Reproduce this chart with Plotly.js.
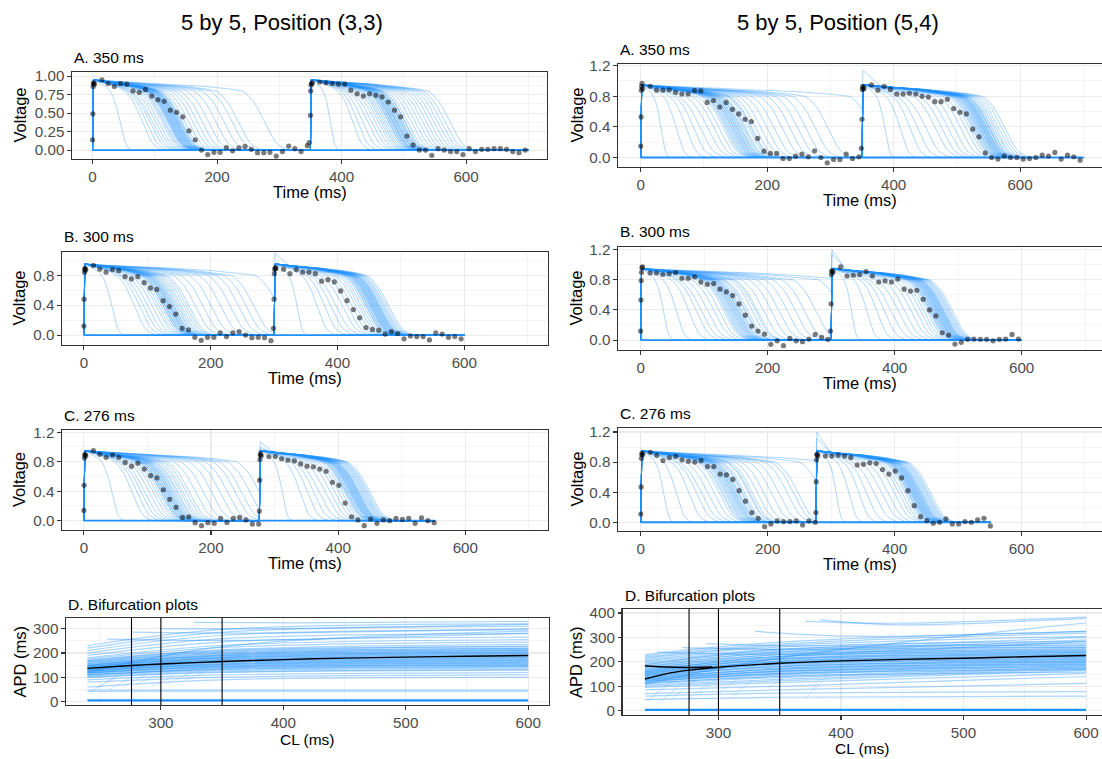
<!DOCTYPE html>
<html><head><meta charset="utf-8">
<script src="https://cdn.plot.ly/plotly-3.0.1.min.js"></script>
<style>html,body{margin:0;padding:0;background:#fff}#chart{width:1102px;height:759px}</style>
</head><body><div id="chart"></div>
<script>
// ---------------- DATA ----------------
// Observed data points (time ms, voltage) per panel
const LA_dotT = [0,0.5,1,1.5,2,3,15,25,35,45,55,65,75,85,95,105,115,125,135,145,155,165,175,185,195,205,215,225,235,245,255,265,275,285,295,305,315,325,335,345,348,350,350.5,351,352,353,365,375,385,395,405,415,425,435,445,455,465,475,485,495,505,515,525,535,545,555,565,575,585,595,605,615,625,635,645,655,665,675,685,695];
const LA_dotV = [0.14,0.49,0.86,0.9,0.91,0.89,.95,.90,.86,.90,.89,.80,.78,.82,.73,.68,.66,.54,.51,.45,.26,.14,0,-.06,-.03,-.03,.035,-.01,.03,.05,.01,-.035,-.035,-.03,-.08,-.02,.055,.02,-.02,.06,.1,.47,.8,.88,.9,.91,.92,.91,.9,.89,.89,.81,.76,.73,.76,.74,.72,.65,.54,.45,.19,.07,0,0,-.07,.02,0,-.02,-.02,-.06,.02,-.02,.01,.01,.02,.02,.01,-.02,-.035,0];
const LB_dotT = [0,0.5,1,1.5,2,3,15,25,35,45,55,65,75,85,95,105,115,125,135,145,155,165,175,185,195,205,215,225,235,245,255,265,275,285,295,299,300,300.5,301,302,303,315,325,335,345,355,365,375,385,395,405,415,425,435,445,455,465,475,485,495,505,515,525,535,545,555,565,575,585,595];
const LB_dotV = [.12,.48,.84,.88,.89,.87,.93,.88,.84,.875,.86,.78,.75,.78,.70,.63,.61,.46,.38,.28,.09,.07,-.03,-.07,-.03,-.03,.03,-.02,.03,.045,0,-.035,-.03,-.035,-.075,.09,.48,.82,.88,.9,.89,.88,.82,.875,.84,.84,.82,.72,.74,.71,.59,.46,.34,.23,.10,.075,.065,.013,.045,.02,-.05,-.013,-.02,-.02,-.065,.03,.013,-.03,-.02,-.05];
const LC_dotT = [0,0.5,1,1.5,2,3,15,25,35,45,55,65,75,85,95,105,115,125,135,145,155,165,175,185,195,205,215,225,235,245,255,265,275,276,276.5,277,277.5,278,279,291,301,311,321,331,341,351,361,371,381,391,401,411,421,431,441,451,461,471,481,491,501,511,521,531,541,551];
const LC_dotV = [.14,.48,.85,.89,.9,.88,.95,.9,.86,.89,.86,.79,.74,.78,.70,.61,.58,.42,.29,.18,.045,.054,-.027,-.068,-.027,-.036,.032,-.023,.032,.045,.01,-.045,-.045,.13,.55,.83,.89,.91,.88,.87,.87,.84,.82,.81,.77,.74,.73,.70,.67,.52,.48,.24,.054,.01,-.068,.023,-.036,.01,0,.032,.018,.032,-.036,.04,0,-.027];
const RA_dotT = [0,0.5,1,1.5,2,3,15,25,35,45,55,65,75,85,95,105,115,125,135,145,155,165,175,185,195,205,215,225,235,245,255,265,275,285,295,305,315,325,335,345,349,350,350.5,351,352,353,365,375,385,395,405,415,425,435,445,455,465,475,485,495,505,515,525,535,545,555,565,575,585,595,605,615,625,635,645,655,665,675,685,695];
const RA_dotV = [.15,.53,.88,.93,.97,.9,.93,.88,.88,.885,.85,.83,.83,.875,.87,.72,.745,.66,.72,.63,.57,.50,.47,.25,.083,.053,.053,-.013,-.013,.018,.044,.009,.088,0,-.07,-.026,-.026,.044,-.013,.009,.12,.5,.89,.93,.91,.9,.95,.88,.93,.89,.83,.83,.84,.83,.80,.79,.73,.73,.76,.64,.59,.57,.37,.27,.06,0,-.02,.02,0,0,-.02,-.013,0,.03,.02,.066,-.02,.03,.01,-.035];
const RB_dotT = [0,0.5,1,1.5,2,3,15,25,35,45,55,65,75,85,95,105,115,125,135,145,155,165,175,185,195,205,215,225,235,245,255,265,275,285,295,299,300,300.5,301,302,303,315,325,335,345,355,365,375,385,395,405,415,425,435,445,455,465,475,485,495,505,515,525,535,545,555,565,575,585,595];
const RB_dotV = [.12,.53,.79,.9,.96,.97,.89,.89,.87,.88,.895,.82,.82,.84,.77,.74,.75,.675,.64,.59,.48,.33,.185,.12,.08,-.057,-.01,-.075,.022,-.01,-.022,.013,.075,.035,.01,.12,.48,.87,.92,.91,.9,.97,.85,.86,.87,.91,.85,.77,.785,.77,.81,.675,.65,.66,.54,.40,.32,.097,.066,-.053,-.03,.01,.013,.01,.01,-.01,.01,.013,.075,.013];
const RC_dotT = [0,0.5,1,1.5,2,3,15,25,35,45,55,65,75,85,95,105,115,125,135,145,155,165,175,185,195,205,215,225,235,245,255,265,275,276,276.5,277,277.5,278,279,291,301,311,321,331,341,351,361,371,381,391,401,411,421,431,441,451,461,471,481,491,501,511,521,531,541,551];
const RC_dotV = [.11,.47,.85,.9,.92,.9,.93,.89,.82,.86,.875,.83,.81,.80,.82,.74,.74,.64,.63,.57,.42,.28,.13,.053,-.058,-.022,.018,.009,.009,.018,-.036,.018,0,.13,.54,.83,.9,.9,.88,.88,.88,.89,.88,.86,.76,.77,.79,.78,.70,.64,.68,.59,.42,.22,.075,.022,-.013,0,.044,-.022,-.022,.009,0,.031,.053,-.049];

// Simulated action potentials: APD (ms) of beat 1 and beat 2 for each sampled curve
const LA_apd1 = [55,100,108,115,120,125,130,135,138,140,143,145,147,149,150,152,154,156,158,160,162,165,168,172,178,185,192,200,210,222,235,248,258,300,146,148,151,153,155,157,159,161,163,166];
const LA_apd2 = [40,85,95,105,115,122,128,133,137,140,143,146,149,152,155,157,160,162,165,168,171,175,180,186,192,198,204,210,216,222,228,234,240,248,150,153,156,158,161,163,166,169,172,176];
const LB_apd1 = [55,100,110,118,125,132,138,142,146,149,152,155,158,160,163,166,170,175,182,190,200,212,225,240,255,268,280,292,330,150,153,156,159,161,164,167,172,178,186];
const LB_apd2 = [45,85,100,112,122,132,140,147,153,158,162,166,169,172,175,177,179,181,183,185,187,189,191,193,195,197,199,202,205,170,173,176,178,180,182,184,186,188,190];
const LC_apd1 = [55,95,105,113,120,127,133,138,142,145,148,151,154,157,160,163,167,172,180,190,200,212,225,238,250,262,272,285,300,146,149,152,155,158,161,165,170,176,185];
const LC_apd2 = [45,80,95,107,118,128,136,143,149,154,158,161,164,167,169,171,173,175,177,179,181,183,185,187,189,191,193,195,198,160,163,166,168,170,172,174,176,178,180];
const RA_apd1 = [40,70,90,105,118,130,140,148,155,160,164,168,171,174,177,180,183,186,190,195,200,206,214,224,235,248,260,272,285,300,320,390,158,162,166,169,172,175,178,182,188,198];
const RA_apd2 = [45,75,95,110,125,140,150,160,170,180,188,194,198,202,205,208,210,212,214,216,218,220,222,224,226,228,230,233,236,240,245,250,200,204,207,210,213,215,217,219,221,225];
const RB_apd1 = [45,70,95,110,120,130,140,148,155,160,164,168,171,174,177,180,184,188,193,200,208,218,230,242,255,268,282,300,340,380,158,162,166,169,172,175,178,182,190,205];
const RB_apd2 = [40,70,90,105,118,130,140,150,158,165,170,175,178,181,184,186,188,190,192,194,196,198,200,202,204,206,208,210,212,215,180,183,186,189,191,193,195,197,199,201];
const RC_apd1 = [45,70,95,110,120,130,140,148,154,159,163,167,170,173,176,179,183,188,194,200,208,218,230,242,255,265,272,310,350,152,157,161,165,168,171,174,178,185,196];
const RC_apd2 = [40,65,85,100,115,128,138,148,155,160,165,168,171,174,176,178,180,182,184,186,188,190,192,194,196,198,200,202,205,170,173,175,177,179,181,183,185,187,190];

// Action-potential shape: plateau part and repolarisation part
const plateauFrac = [0,0.15,0.35,0.55,0.75,0.9,1.0];
const plateauV    = [0.95,0.93,0.91,0.89,0.86,0.83,0.80];
const repolFrac   = [0.1,0.2,0.3,0.4,0.5,0.6,0.7,0.8,0.9,1.0,1.15,1.3];
const repolV      = [0.77,0.72,0.66,0.58,0.49,0.39,0.29,0.19,0.11,0.06,0.02,0];

// Bifurcation plots: APD (ms) of each restitution curve at its start CL, at 30% of the span, and at CL 600
const LD_start = [240,240,240,240,240,240,240,240,240,240,240,240,240,240,240,240,240,240,240,240,240,240,240,240,240,240,240,240,240,240,240,240,240,256,277,300,327,
                  240,240,240,240,240,240,240,240,240,240,240,240,240,240,240,240,240,240];
const LD_v0    = [42,48,60,80,90,100,105,110,115,118,122,125,128,130,133,136,139,142,145,148,152,156,160,165,170,175,180,190,200,210,220,230,120,257,286,300,326,
                  100,112,108,120,118,126,124,132,130,138,136,144,142,150,148,156,162,168];
const LD_vmid  = [43,48,90,100,110,120,127,133,139,143,148,152,156,160,164,168,172,176,180,184,189,194,199,206,213,222,231,245,258,272,285,296,225,252,282,300,324,
                  122,132,136,142,146,152,155,161,164,170,173,179,182,188,191,197,203,210];
const LD_v600  = [43,48,100,110,120,130,138,145,150,155,160,165,170,175,180,185,190,195,200,205,210,215,220,228,235,245,255,265,280,295,310,320,290,282,300,318,330,
                  132,142,148,152,158,162,168,172,178,182,188,192,198,202,208,212,218,225];
const RD_start = [240,240,240,240,240,240,240,240,240,240,240,240,240,240,240,240,240,240,240,240,240,240,240,240,240,240,240,240,240,240,240,240,240,250,270,290,330,371,383,
                  240,240,240,240,240,240,240,240,240,240,240,240,240,240,240,240,240,240,240,240];
const RD_v0    = [45,60,70,85,95,100,105,110,115,120,125,130,135,140,145,150,155,160,165,170,175,180,185,190,195,200,205,210,215,220,225,230,110,240,258,275,325,366,372,
                  112,122,118,128,124,134,130,140,136,146,142,152,148,158,154,164,160,170,178,188];
const RD_vmid  = [55,72,85,100,115,122,128,135,140,146,152,158,163,168,174,180,186,192,197,203,209,215,222,228,235,240,246,252,260,266,272,280,215,232,252,265,305,358,352,
                  140,150,152,160,162,170,172,180,182,190,192,200,202,210,212,220,222,230,240,250];
const RD_v600  = [60,78,112,140,153,165,170,175,180,185,190,195,200,205,210,215,220,225,230,235,240,245,250,255,260,265,270,277,284,304,318,325,359,284,290,300,325,383,378,
                  158,168,172,178,182,188,192,198,202,208,212,218,222,228,232,238,242,248,258,268];
// short steep branches: [CL start, APD start, CL end, APD end]
const LD_segCL0 = [242,248,258,268,280,292,305,320];
const LD_segV0  = [40,55,50,60,70,60,75,90];
const LD_segCL1 = [262,268,276,288,300,310,325,338];
const LD_segV1  = [100,115,100,110,120,105,120,125];
const RD_segCL0 = [242,252,262,275,282,300,310,340,371,378];
const RD_segV0  = [40,35,50,45,60,70,55,90,45,85];
const RD_segCL1 = [262,270,282,292,300,318,328,358,382,390];
const RD_segV1  = [120,110,130,115,140,140,125,150,125,150];
// non-excited curves (flat lines)
const LD_flat = 5, RD_flat = 3;
// true (black) restitution curves
const LD_trueCL  = [240,276,300,350,400,450,500,550,600];
const LD_trueAPD = [137,149,155,165,173,179,183,187,190];
const RD_trueCL  = [240,258,276,300,350,400,450,500,550,600];
const RD_trueAPD = [130,152,166,178,194,204,210,215,221,226];
const RD_true2CL  = [240,258,276,295];
const RD_true2APD = [183,179,177,179];
const CL_marks = [276,300,350];

// ---------------- BUILD ----------------
const W = 1102, H = 759;
const FONT = 'Liberation Sans, Arial, Helvetica, sans-serif';
const BLUE = '#1E90FF';
const GRID = '#EBEBEB';
const traces = [];
const annotations = [];
const shapes = [];
const layout = {width:W, height:H, autosize:false, margin:{l:0,r:0,t:0,b:0},
  paper_bgcolor:'#fff', plot_bgcolor:'#fff', showlegend:false, font:{family:FONT}};

function ax(n){return n===1?'':String(n);}

function beat(t0, a, peak){
  const d = Math.min(0.5*a, 60), P = a - d;
  const pts = [[t0,0],[t0+1.5, peak]];
  for (let i=1;i<plateauFrac.length;i++) pts.push([t0+1.5+plateauFrac[i]*(P-1.5), plateauV[i]]);
  for (let i=0;i<repolFrac.length;i++) pts.push([t0+P+repolFrac[i]*d, repolV[i]]);
  return pts;
}
function apCurve(cl, a1, a2){
  const xs=[], ys=[];
  const b1 = beat(0,a1,plateauV[0]);
  let vcl = 0;
  for (let i=0;i<b1.length;i++){
    const [t,v] = b1[i];
    if (t < cl){ xs.push(t); ys.push(v); }
    else { const [tp,vp]=b1[i-1]; vcl = vp + (v-vp)*(cl-tp)/(t-tp); break; }
  }
  xs.push(cl); ys.push(vcl);
  // upstroke from an unrecovered cell overshoots
  const b2 = beat(cl,a2, plateauV[0] + 0.3*vcl);
  for (let i=1;i<b2.length;i++){ xs.push(b2[i][0]); ys.push(b2[i][1]); }
  xs.push(2*cl); ys.push(0);
  return {x:xs,y:ys};
}

function setAxes(n, box, xr, yr, xt, xtt, xm, yt, ytt, ym, right){
  const common = {showgrid:true, gridcolor:GRID, gridwidth:1.07, zeroline:false,
    showline:true, linecolor:'#333333', linewidth:1.07, ticks:'outside', ticklen:3.5,
    tickcolor:'#333333', tickwidth:1.07, tickfont:{family:FONT,size:15.2,color:'#4D4D4D'},
    fixedrange:true};
  layout['xaxis'+ax(n)] = Object.assign({}, common, {domain:[box[0]/W, box[1]/W], range:xr,
    anchor:'y'+ax(n), tickmode:'array', tickvals:xt, ticktext:xtt, mirror:true,
    minor:{tickmode:'array', tickvals:xm, showgrid:true, gridcolor:GRID, gridwidth:0.53, ticks:''}});
  layout['yaxis'+ax(n)] = Object.assign({}, common, {domain:[1-box[3]/H, 1-box[2]/H], range:yr,
    anchor:'x'+ax(n), tickmode:'array', tickvals:yt, ticktext:ytt, mirror:!right,
    minor:{tickmode:'array', tickvals:ym, showgrid:true, gridcolor:GRID, gridwidth:0.53, ticks:''}});
}
function text(str, x, y, size, opts){
  annotations.push(Object.assign({text:str, xref:'paper', yref:'paper', x:x/W, y:1-y/H,
    showarrow:false, font:{family:FONT, size:size, color:'#000'}, xanchor:'center', yanchor:'middle'}, opts||{}));
}

const apPanels = [
  {n:1, cl:350, a1:LA_apd1, a2:LA_apd2, dt:LA_dotT, dv:LA_dotV, box:[72,547,72,159], xr:[-33,730], yr:[-0.12,1.055], title:'A. 350 ms', quarter:true, vx:19},
  {n:2, cl:300, a1:LB_apd1, a2:LB_apd2, dt:LB_dotT, dv:LB_dotV, box:[62,548,252,345], xr:[-34.5,732], yr:[-0.133,1.11], title:'B. 300 ms', vx:19},
  {n:3, cl:276, a1:LC_apd1, a2:LC_apd2, dt:LC_dotT, dv:LC_dotV, box:[62,548,430,530], xr:[-34.4,730], yr:[-0.126,1.23], title:'C. 276 ms', vx:19},
  {n:5, cl:350, a1:RA_apd1, a2:RA_apd2, dt:RA_dotT, dv:RA_dotV, box:[618,1102,64,167], xr:[-36,729.6], yr:[-0.124,1.222], title:'A. 350 ms', right:true, vx:576},
  {n:6, cl:300, a1:RB_apd1, a2:RB_apd2, dt:RB_dotT, dv:RB_dotV, box:[618,1102,247,350], xr:[-35.6,726.6], yr:[-0.132,1.235], title:'B. 300 ms', right:true, vx:576},
  {n:7, cl:276, a1:RC_apd1, a2:RC_apd2, dt:RC_dotT, dv:RC_dotV, box:[618,1102,428,531], xr:[-36,727], yr:[-0.116,1.253], title:'C. 276 ms', right:true, vx:576}
];

apPanels.forEach(p=>{
  const xa='x'+ax(p.n), ya='y'+ax(p.n);
  for (let i=0;i<p.a1.length;i++){
    const c = apCurve(p.cl, p.a1[i], p.a2[i]);
    traces.push({type:'scatter', mode:'lines', x:c.x, y:c.y, xaxis:xa, yaxis:ya,
      line:{color:'rgba(30,144,255,0.36)', width:1.0}, hoverinfo:'skip'});
  }
  traces.push({type:'scatter', mode:'lines', x:[0,2*p.cl], y:[0,0], xaxis:xa, yaxis:ya,
    line:{color:BLUE, width:1.8}, hoverinfo:'skip'});
  traces.push({type:'scatter', mode:'markers', x:p.dt, y:p.dv, xaxis:xa, yaxis:ya,
    marker:{color:'rgba(0,0,0,0.52)', size:5.2, line:{width:0}}, hoverinfo:'skip'});
  let yt, ytt, ym;
  if (p.quarter){ yt=[0,0.25,0.5,0.75,1]; ytt=['0.00','0.25','0.50','0.75','1.00']; ym=[0.125,0.375,0.625,0.875]; }
  else { yt=[0,0.4,0.8,1.2]; ytt=['0.0','0.4','0.8','1.2']; ym=[0.2,0.6,1.0]; }
  setAxes(p.n, p.box, p.xr, p.yr, [0,200,400,600], ['0','200','400','600'], [100,300,500,700], yt, ytt, ym, p.right);
  text(p.title, p.box[0], p.box[2]-15, 15.5, {xanchor:'left'});
  text('Voltage', p.vx, (p.box[2]+p.box[3])/2, 16.5, {textangle:-90});
  text('Time (ms)', (p.box[0]+p.box[1])/2, p.box[3]+33, 16.5);
});

const bifPanels = [
  {n:4, st:LD_start, v0:LD_v0, vm:LD_vmid, v6:LD_v600, s0:LD_segCL0, sv0:LD_segV0, s1:LD_segCL1, sv1:LD_segV1, flat:LD_flat,
   tc:[[LD_trueCL,LD_trueAPD]], box:[66,549,618,705], xr:[222.5,617], yr:[-13.7,344], yt:[0,100,200,300], ym:[50,150,250], vx:19, cly:739},
  {n:8, st:RD_start, v0:RD_v0, vm:RD_vmid, v6:RD_v600, s0:RD_segCL0, sv0:RD_segV0, s1:RD_segCL1, sv1:RD_segV1, flat:RD_flat,
   tc:[[RD_trueCL,RD_trueAPD],[RD_true2CL,RD_true2APD]], box:[622.5,1102,609,715], xr:[221.7,613], yr:[-17.6,416.4], yt:[0,100,200,300,400], ym:[50,150,250,350], right:true, vx:576, cly:748}
];
bifPanels.forEach(p=>{
  const xa='x'+ax(p.n), ya='y'+ax(p.n);
  for (let i=0;i<p.st.length;i++){
    const c0=p.st[i];
    traces.push({type:'scatter', mode:'lines', x:[c0, c0+0.3*(600-c0), 600], y:[p.v0[i], p.vm[i], p.v6[i]],
      xaxis:xa, yaxis:ya, line:{color:'rgba(30,144,255,0.38)', width:1.2, shape:'spline', smoothing:1}, hoverinfo:'skip'});
  }
  for (let i=0;i<p.s0.length;i++){
    traces.push({type:'scatter', mode:'lines', x:[p.s0[i], p.s1[i]], y:[p.sv0[i], p.sv1[i]],
      xaxis:xa, yaxis:ya, line:{color:'rgba(30,144,255,0.22)', width:0.9}, hoverinfo:'skip'});
  }
  traces.push({type:'scatter', mode:'lines', x:[240,600], y:[p.flat,p.flat], xaxis:xa, yaxis:ya,
    line:{color:BLUE, width:2.2}, hoverinfo:'skip'});
  p.tc.forEach(tc=>{
    traces.push({type:'scatter', mode:'lines', x:tc[0], y:tc[1], xaxis:xa, yaxis:ya,
      line:{color:'#000', width:1.4, shape:'spline', smoothing:0.8}, hoverinfo:'skip'});
  });
  CL_marks.forEach(c=>{
    shapes.push({type:'line', xref:xa, yref:ya+' domain', x0:c, x1:c, y0:0, y1:1, line:{color:'#000', width:1.1}});
  });
  setAxes(p.n, p.box, p.xr, p.yr, [300,400,500,600], ['300','400','500','600'], [250,350,450,550],
    p.yt, p.yt.map(String), p.ym, p.right);
  text('D. Bifurcation plots', p.box[0], p.box[2]-14, 15.5, {xanchor:'left'});
  text('APD (ms)', p.vx, (p.box[2]+p.box[3])/2, 16.5, {textangle:-90});
  text('CL (ms)', (p.box[0]+p.box[1])/2, p.cly, 15.5);
});

text('5 by 5, Position (3,3)', 282, 23, 22);
text('5 by 5, Position (5,4)', 838, 23, 22);

layout.annotations = annotations;
layout.shapes = shapes;
Plotly.newPlot('chart', traces, layout, {displayModeBar:false, staticPlot:true});
</script></body></html>
